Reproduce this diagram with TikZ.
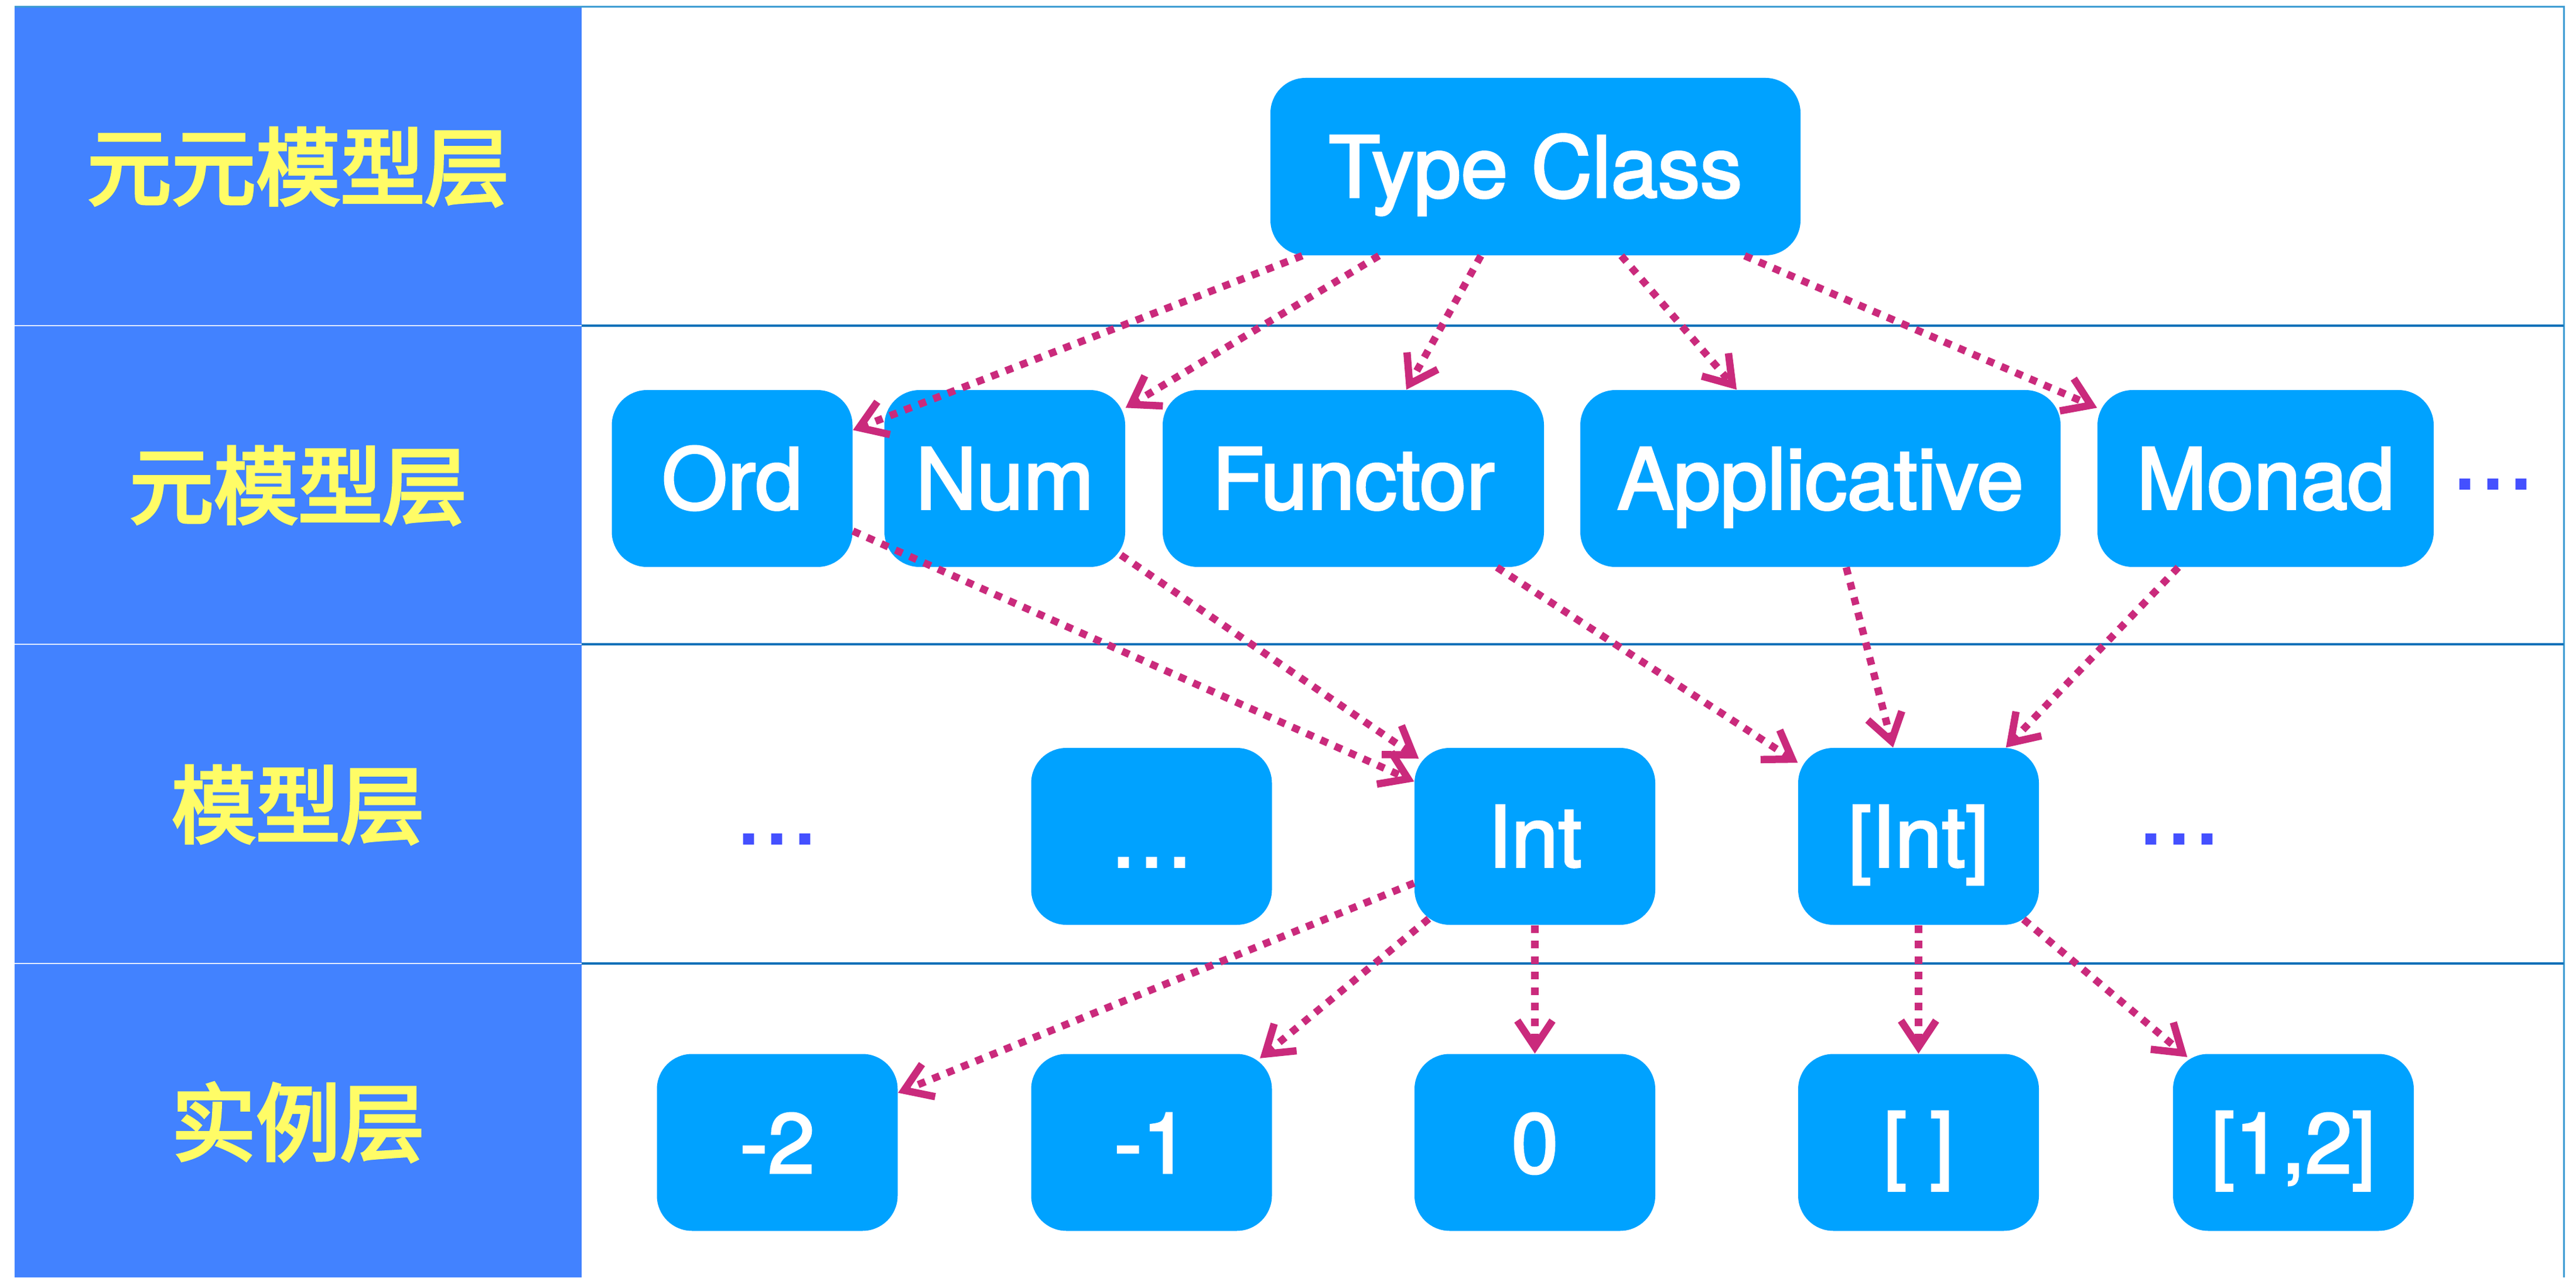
\documentclass[tikz,border=0pt]{standalone}
\usepackage{fontspec}
\setmainfont{TeX Gyre Heros}
\newfontfamily\boxfont{TeX Gyre Heros}[FakeBold=2.5]
\newfontfamily\cjk{Noto Sans CJK SC}[FakeBold=3.5]
\usetikzlibrary{arrows.meta}

\definecolor{colblue}{RGB}{66,130,255}
\definecolor{boxblue}{RGB}{0,162,255}
\definecolor{labyellow}{RGB}{255,252,102}
\definecolor{arrowred}{RGB}{202,42,124}
\definecolor{dotblue}{RGB}{68,80,255}
\definecolor{ruleblue}{RGB}{10,112,184}
\definecolor{frameblue}{RGB}{60,155,210}

\begin{document}
\begin{tikzpicture}[
	box/.style={fill=boxblue, rounded corners=0.6cm, minimum width=4.11cm, minimum height=3.02cm, inner sep=0pt, text=white, font=\boxfont\fontsize{41}{49}\selectfont, text height=1.04cm, text depth=0pt},
	layer/.style={text=labyellow, font=\cjk\fontsize{41}{49}\selectfont},
	dots/.style={text=dotblue, font=\boxfont\fontsize{41}{49}\selectfont, inner sep=0pt, anchor=base},
	dep/.style={draw=arrowred, line width=0.125cm, dash pattern=on 0.13cm off 0.135cm, -{Straight Barb[length=0.45cm, width=0.6cm]}}
	]
		\useasboundingbox (0,0) rectangle (43.98,21.81);
		\fill[white] (0,0) rectangle (43.98,21.81);
		
		% table
		\fill[colblue] (0.25,0) rectangle (9.93,21.69);
		\draw[frameblue, line width=0.03cm] (0.25,21.69) -- (43.77,21.69) -- (43.77,0);
		\foreach \y in {16.25,10.81,5.36} {
			\draw[ruleblue, line width=0.04cm] (9.93,\y) -- (43.77,\y);
			\draw[white!85!colblue, line width=0.02cm] (0.25,\y) -- (9.93,\y);
		}
		
		\node[layer] (l1) at (5.09,18.96) {元元模型层};
		\node[layer] (l2) at (5.09,13.52) {元模型层};
		\node[layer] (l3) at (5.09,8.07) {模型层};
		\node[layer] (l4) at (5.09,2.65) {实例层};
		
		% boxes
		\node[box, minimum width=9.05cm, minimum height=3.03cm] (tc) at (26.215,18.965) {Type Class};
		
		\node[box] (ord) at (12.50,13.64) {Ord};
		\node[box] (num) at (17.155,13.64) {Num};
		\node[box, minimum width=6.51cm] (fun) at (23.105,13.64) {Functor};
		\node[box, minimum width=8.20cm] (app) at (31.08,13.64) {Applicative};
		\node[box, minimum width=5.74cm] (mon) at (38.68,13.64) {Monad};
		\node[dots] (more2) at (42.56,13.47) {…};
		
		\node[dots] (more3a) at (13.26,7.41) {…};
		\node[box] (etc) at (19.66,7.53) {…};
		\node[box] (int) at (26.205,7.53) {Int};
		\node[box] (lint) at (32.755,7.53) {[Int]};
		\node[dots] (more3b) at (37.20,7.41) {…};
		
		\node[box] (m2) at (13.27,2.305) {-2};
		\node[box] (m1) at (19.66,2.305) {-1};
		\node[box] (zero) at (26.205,2.305) {0};
		\node[box] (nil) at (32.755,2.305) {[ ]};
		\node[box] (lst) at (39.155,2.305) {[1,2]};
		
		% arrows
		\draw[dep] ([xshift=5.5mm]tc.south west) -- ([yshift=-6.9mm]ord.north east);
		\draw[dep] ([xshift=18.6mm]tc.south west) -- ([yshift=-3.1mm]num.north east);
		\draw[dep] ([xshift=36mm]tc.south west) -- ([xshift=9.05mm]fun.north);
		\draw[dep] ([xshift=14.65mm]tc.south) -- ([xshift=-14.3mm]app.north);
		\draw[dep] ([xshift=-9.6mm]tc.south east) -- ([yshift=-3.1mm]mon.north west);
		
		\draw[dep] ([yshift=6.2mm]ord.south east) -- ([yshift=-5.8mm]int.north west);
		\draw[dep] ([shift={(-0.8mm,2.1mm)}]num.south east) -- ([shift={(0.8mm,-1.9mm)}]int.north west);
		\draw[dep] ([xshift=-8.1mm]fun.south east) -- ([yshift=-2.6mm]lint.north west);
		\draw[dep] ([xshift=4.4mm]app.south) -- ([xshift=-4.35mm]lint.north);
		\draw[dep] ([xshift=-14.9mm]mon.south) -- ([xshift=-5.7mm]lint.north east);
		
		\draw[dep] ([yshift=7.2mm]int.south west) -- ([yshift=-6.7mm]m2.north east);
		\draw[dep] ([shift={(2.5mm,1.1mm)}]int.south west) -- ([shift={(-2.1mm,-0.8mm)}]m1.north east);
		\draw[dep] (int) -- (zero);
		\draw[dep] (lint) -- (nil);
		\draw[dep] ([shift={(-2.7mm,1mm)}]lint.south east) -- ([shift={(2.5mm,-0.6mm)}]lst.north west);
	
	\end{tikzpicture}
\end{document}
